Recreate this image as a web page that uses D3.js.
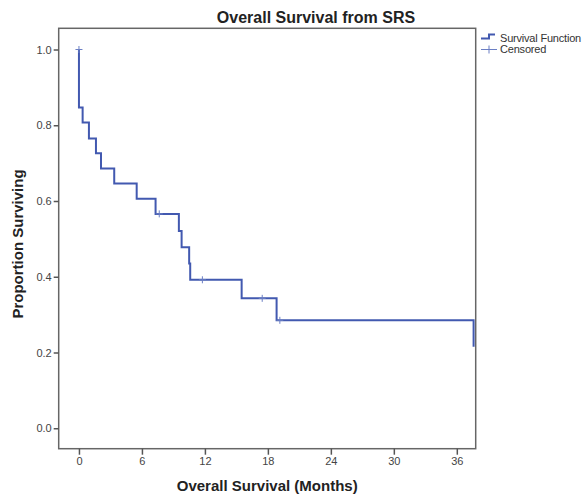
<!DOCTYPE html>
<html>
<head>
<meta charset="utf-8">
<script src="https://cdn.jsdelivr.net/npm/d3@7"></script>
<style>
  body { margin: 0; background: #fff; }
  svg { font-family: "Liberation Sans", Arial, sans-serif; }
  .axis text { font-size: 11px; fill: #444; }
  .axis line { stroke: #555; stroke-width: 1.5; }
  .axis path { display: none; }
</style>
</head>
<body>
<svg id="chart" width="586" height="495"></svg>
<script>

// Kaplan-Meier steps (time in months, survival after the step)
var times    = [0, 0, 0.35, 0.95, 1.62, 2.1, 3.36, 5.5, 7.3, 9.52, 9.78, 10.5, 10.6, 15.5, 18.83, 37.6];
var survival = [1.0, 0.847, 0.807, 0.765, 0.726, 0.686, 0.646, 0.606, 0.566, 0.521, 0.478, 0.435, 0.392, 0.343, 0.285, 0.215];

// Censored observations
var censorTimes = [0, 7.65, 11.76, 17.46, 19.14];
var censorSurvival = [1.0, 0.566, 0.392, 0.343, 0.285];

// Tick labels
var xTicks = [0, 6, 12, 18, 24, 30, 36];
var yTicks = [0.0, 0.2, 0.4, 0.6, 0.8, 1.0];

var lineColor = "#4259b0";

// Plot frame
var frame = {left: 58.7, right: 475.7, top: 28.3, bottom: 448.7};

var svg = d3.select("#chart");

// Scales
var x = d3.scaleLinear().domain([-1.93, 37.8]).range([frame.left, frame.right]);
var y = d3.scaleLinear().domain([-0.054, 1.056]).range([frame.bottom, frame.top]);

// Frame box
svg.append("rect")
    .attr("x", frame.left)
    .attr("y", frame.top)
    .attr("width", frame.right - frame.left)
    .attr("height", frame.bottom - frame.top)
    .attr("fill", "none")
    .attr("stroke", "#666")
    .attr("stroke-width", 1.5);

// Axes
svg.append("g")
    .attr("class", "x axis")
    .attr("transform", "translate(0," + frame.bottom + ")")
    .call(d3.axisBottom(x).tickValues(xTicks).tickSize(6).tickPadding(3));

svg.append("g")
    .attr("class", "y axis")
    .attr("transform", "translate(" + frame.left + ",0)")
    .call(d3.axisLeft(y).tickValues(yTicks).tickFormat(d3.format(".1f")).tickSize(5).tickPadding(2));

// Survival step line
var points = times.map(function(t, i) { return {t: t, s: survival[i]}; });

var valueline = d3.line()
    .x(function(d) { return x(d.t); })
    .y(function(d) { return y(d.s); })
    .curve(d3.curveStepAfter);

svg.append("path")
    .datum(points)
    .attr("d", valueline)
    .attr("fill", "none")
    .attr("stroke", lineColor)
    .attr("stroke-width", 2);

// Censor marks
var censored = censorTimes.map(function(t, i) { return {t: t, s: censorSurvival[i]}; });

var marks = svg.selectAll(".censor")
    .data(censored)
    .enter()
    .append("g")
    .attr("class", "censor")
    .attr("transform", function(d) { return "translate(" + x(d.t) + "," + y(d.s) + ")"; });

marks.append("line").attr("x1", -3.5).attr("x2", 3.5).attr("y1", 0).attr("y2", 0);
marks.append("line").attr("x1", 0).attr("x2", 0).attr("y1", -3.5).attr("y2", 3.5);
marks.selectAll("line").attr("stroke", "#6b7fc4").attr("stroke-width", 1);

// Title
svg.append("text")
    .attr("x", 316)
    .attr("y", 23)
    .attr("text-anchor", "middle")
    .style("font-size", "16px")
    .style("font-weight", "bold")
    .attr("fill", "#222")
    .text("Overall Survival from SRS");

// Axis titles
svg.append("text")
    .attr("x", (frame.left + frame.right) / 2)
    .attr("y", 491)
    .attr("text-anchor", "middle")
    .style("font-size", "15px")
    .style("font-weight", "bold")
    .attr("fill", "#222")
    .text("Overall Survival (Months)");

svg.append("text")
    .attr("transform", "translate(23,244) rotate(-90)")
    .attr("text-anchor", "middle")
    .style("font-size", "15px")
    .style("font-weight", "bold")
    .attr("fill", "#222")
    .text("Proportion Surviving");

// Legend
var legend = svg.append("g").attr("transform", "translate(481,0)");

legend.append("path")
    .attr("d", "M0,38.5H8V34.5H14")
    .attr("fill", "none")
    .attr("stroke", lineColor)
    .attr("stroke-width", 2);

legend.append("line").attr("x1", 0).attr("x2", 16).attr("y1", 49.5).attr("y2", 49.5)
    .attr("stroke", "#6b7fc4").attr("stroke-width", 1);
legend.append("line").attr("x1", 8).attr("x2", 8).attr("y1", 45.5).attr("y2", 53.5)
    .attr("stroke", "#6b7fc4").attr("stroke-width", 1);

legend.append("text")
    .attr("x", 19)
    .attr("y", 42)
    .style("font-size", "11px")
    .style("letter-spacing", "-0.2px")
    .attr("fill", "#333")
    .text("Survival Function");

legend.append("text")
    .attr("x", 19)
    .attr("y", 53)
    .style("font-size", "11px")
    .style("letter-spacing", "-0.2px")
    .attr("fill", "#333")
    .text("Censored");

</script>
</body>
</html>
